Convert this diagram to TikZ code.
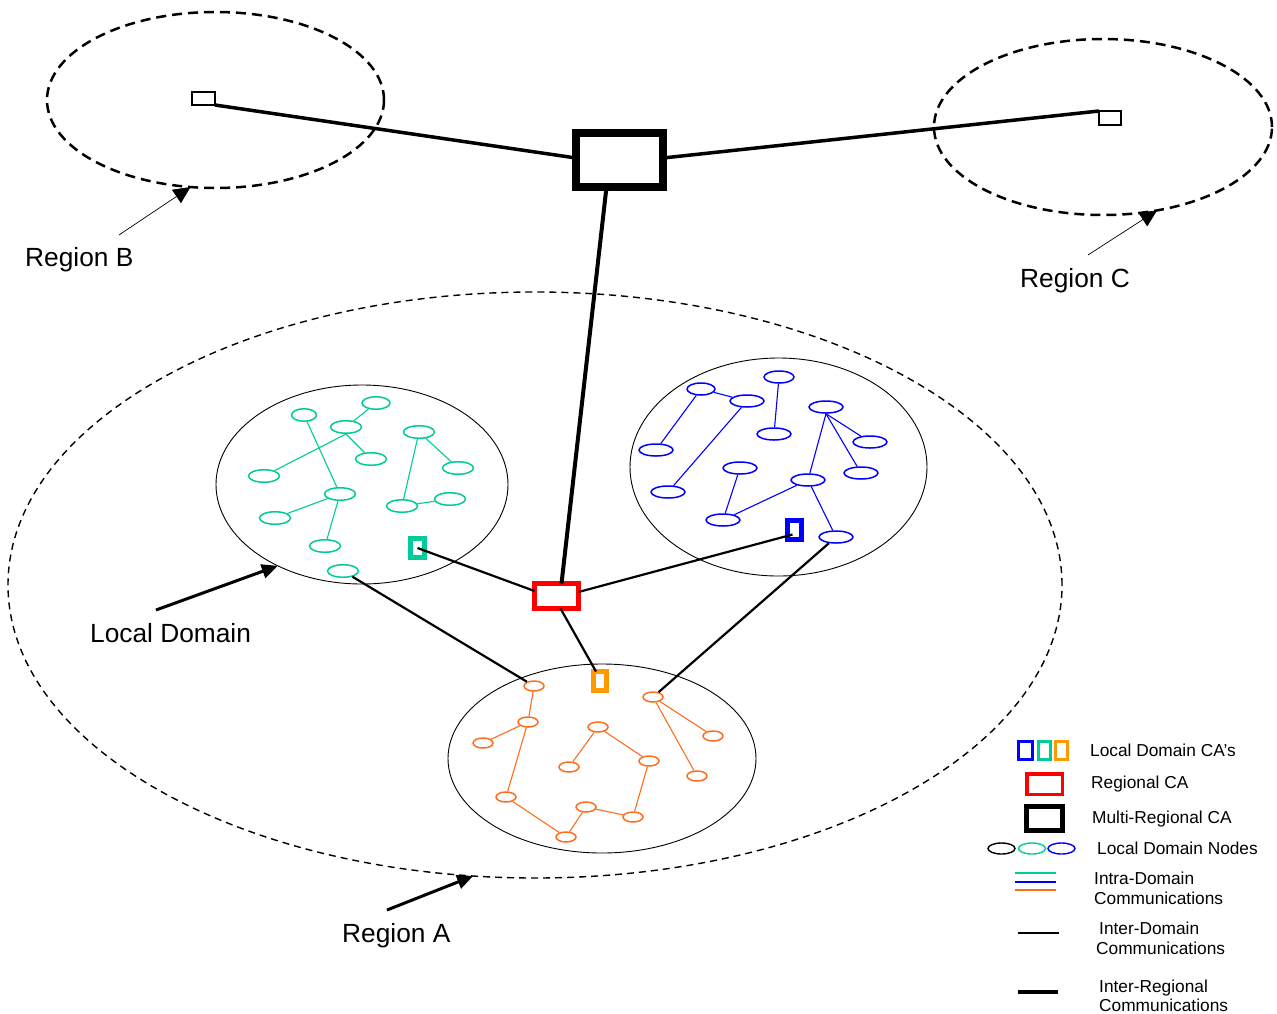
\documentclass[tikz,border=0pt]{standalone}
\usepackage{fontspec}
\setmainfont{Liberation Sans}
\usetikzlibrary{shapes.geometric,arrows.meta,calc}
\definecolor{gcol}{RGB}{0,204,153}
\definecolor{bcol}{RGB}{0,0,255}
\definecolor{ocol}{RGB}{255,110,30}
\definecolor{ocacol}{RGB}{255,153,0}
\definecolor{rcol}{RGB}{255,0,0}
\begin{document}
\begin{tikzpicture}[x=1pt,y=-1pt,
  bigdash/.style={ellipse,draw,dash pattern=on 10pt off 6pt,line width=2.5pt,inner sep=0,outer sep=0},
  smalldash/.style={ellipse,draw,dash pattern=on 7pt off 5pt,line width=1.4pt,inner sep=0,outer sep=0},
  domcirc/.style={ellipse,draw,line width=0.9pt,inner sep=0,outer sep=0},
  gnode/.style={ellipse,draw=gcol,line width=1.5pt,inner sep=0,minimum width=31pt,minimum height=12.5pt},
  bnode/.style={ellipse,draw=bcol,line width=1.5pt,inner sep=0,minimum width=34pt,minimum height=12pt},
  onode/.style={ellipse,draw=ocol,line width=1.5pt,inner sep=0,minimum width=20pt,minimum height=10pt},
  gedge/.style={draw=gcol,line width=1.1pt},
  bedge/.style={draw=bcol,line width=1.1pt},
  oedge/.style={draw=ocol,line width=1.1pt},
  cabox/.style={rectangle,draw,inner sep=0,outer sep=0},
  interdom/.style={draw,line width=2.2pt},
  interreg/.style={draw,line width=3.5pt},
  lbl/.style={inner sep=0,font=\fontsize{26.3}{30}\selectfont},
  legtext/.style={inner sep=0,anchor=base west,font=\fontsize{17.3}{20}\selectfont},
  thinarrow/.style={draw,line width=0.7pt,-{Triangle[length=17pt,width=16pt]}},
  thickarrow/.style={draw,line width=3pt,-{Triangle[length=16pt,width=14pt]}}
]
\fill[white] (0,0) rectangle (1277,1013);
\useasboundingbox (0,0) rectangle (1277,1013);

% regions
\node[bigdash,minimum width=337pt,minimum height=176pt] (regB) at (215.5,100) {};
\node[bigdash,minimum width=338pt,minimum height=176pt] (regC) at (1103,127) {};
\node[smalldash,minimum width=1054pt,minimum height=586pt] (regA) at (535,585) {};

% domains
\node[domcirc,minimum width=292pt,minimum height=199pt] (domG) at (362,484.5) {};
\node[domcirc,minimum width=297pt,minimum height=218pt] (domB) at (778.5,467) {};
\node[domcirc,minimum width=308pt,minimum height=189pt] (domO) at (602,758.5) {};

% CAs
\node[cabox,line width=8pt,minimum width=87pt,minimum height=54pt] (mr) at (619.5,160) {};
\node[cabox,line width=2pt,minimum width=23pt,minimum height=13pt] (bsq) at (203.5,98.5) {};
\node[cabox,line width=2pt,minimum width=22pt,minimum height=14pt] (csq) at (1110,118) {};
\node[cabox,draw=rcol,line width=5pt,minimum width=44pt,minimum height=25pt] (red) at (556.5,596) {};
\node[cabox,draw=gcol,line width=5pt,minimum width=14pt,minimum height=19pt] (gca) at (417.5,548) {};
\node[cabox,draw=bcol,line width=5pt,minimum width=14pt,minimum height=19pt] (bca) at (794.5,530) {};
\node[cabox,draw=ocacol,line width=5pt,minimum width=13pt,minimum height=19pt] (oca) at (600,681) {};

% green nodes
\node[gnode,minimum width=25pt] (g1) at (304,415) {};
\node[gnode,minimum width=28pt] (g2) at (376,403) {};
\node[gnode] (g3) at (346,427) {};
\node[gnode] (g4) at (371,459) {};
\node[gnode] (g5) at (264,476) {};
\node[gnode] (g6) at (419,432) {};
\node[gnode] (g7) at (458,468) {};
\node[gnode] (g8) at (340,494) {};
\node[gnode] (g9) at (275,518) {};
\node[gnode] (g10) at (402,506) {};
\node[gnode] (g11) at (450,499) {};
\node[gnode] (g12) at (325,546) {};
\node[gnode] (g13) at (343,571) {};
\draw[gedge] (g1) -- (g8);
\draw[gedge] (g3) -- (g2);
\draw[gedge] (g3.south) -- (g4);
\draw[gedge] (g3.south) -- (g5);
\draw[gedge] (g8) -- (g9);
\draw[gedge] (g8) -- (g12);
\draw[gedge] (g6) -- (g10);
\draw[gedge] (g6) -- (g7);
\draw[gedge] (g10) -- (g11);

% blue nodes
\node[bnode,minimum width=28pt] (b1) at (701,389) {};
\node[bnode] (b2) at (747,401) {};
\node[bnode,minimum width=30pt] (b3) at (779,377) {};
\node[bnode] (b4) at (774,434) {};
\node[bnode] (b5) at (826,407) {};
\node[bnode] (b6) at (870,442) {};
\node[bnode] (b7) at (861,473) {};
\node[bnode] (b8) at (656,450) {};
\node[bnode] (b9) at (668,492) {};
\node[bnode] (b10) at (740,468) {};
\node[bnode] (b11) at (808,480) {};
\node[bnode] (b12) at (723,520) {};
\node[bnode] (b13) at (836,537) {};
\draw[bedge] (b1) -- (b2);
\draw[bedge] (b1) -- (b8);
\draw[bedge] (b2) -- (b9);
\draw[bedge] (b3) -- (b4);
\draw[bedge] (b5.south) -- (b11);
\draw[bedge] (b5.south) -- (b6);
\draw[bedge] (b5.south) -- (b7);
\draw[bedge] (b10) -- (b12);
\draw[bedge] (b11) -- (b12);
\draw[bedge] (b11) -- (b13);

% orange nodes
\node[onode] (o1) at (534,686) {};
\node[onode] (o2) at (528,722) {};
\node[onode] (o3) at (483,743) {};
\node[onode] (o4) at (598,727) {};
\node[onode] (o5) at (569,767) {};
\node[onode] (o6) at (649,761) {};
\node[onode] (o7) at (653,697) {};
\node[onode] (o8) at (713,736) {};
\node[onode] (o9) at (697,776) {};
\node[onode] (o10) at (506,797) {};
\node[onode] (o11) at (586,807) {};
\node[onode] (o12) at (633,817) {};
\node[onode] (o13) at (566,837) {};
\draw[oedge] (o1) -- (o2);
\draw[oedge] (o2) -- (o3);
\draw[oedge] (o2) -- (o10);
\draw[oedge] (o4) -- (o5);
\draw[oedge] (o4) -- (o6);
\draw[oedge] (o6) -- (o12);
\draw[oedge] (o11) -- (o12);
\draw[oedge] (o11) -- (o13);
\draw[oedge] (o10) -- (o13);
\draw[oedge] (o7) -- (o8);
\draw[oedge] (o7) -- (o9);

% inter-regional
\draw[interreg] (bsq.south east) -- ($(mr.west)+(0,-2)$);
\draw[interreg] ($(mr.east)+(0,-2)$) -- (csq.north west);
\draw[draw,line width=4pt] ($(mr.south)+(-13,0)$) -- ($(red.north)+(5,0)$);

% inter-domain
\draw[interdom] ($(red.west)+(0,-5)$) -- (gca.center);
\draw[interdom] ($(red.east)+(0,-4)$) -- ($(bca.south)+(-2,-5)$);
\draw[interdom] ($(red.south)+(4,0)$) -- ($(oca.north)+(-4,0)$);
\draw[interdom] (g13) -- (o1);
\draw[interdom] (b13) -- (o7);

% labels and arrows
\node[lbl,anchor=base west] (tB) at (25,266) {Region B};
\node[lbl,anchor=base west] (tC) at (1020,287) {Region C};
\node[lbl,anchor=base west] (tL) at (90,642) {Local Domain};
\node[lbl,anchor=base west] (tA) at (342,942) {Region A};
\coordinate (aB) at (119,235);
\coordinate (aC) at (1088,255);
\coordinate (aL) at (156,610);
\coordinate (aA) at (387,910);
\draw[thinarrow] (aB) -- (regB.254);
\draw[thinarrow] (aC) -- (regC.303);
\draw[thickarrow] (aL) -- (domG.224);
\draw[thickarrow] (aA) -- (regA.258);

% legend
\node[cabox,draw=bcol,line width=3pt,minimum width=14pt,minimum height=18pt] (lb) at (1025.5,750.5) {};
\node[cabox,draw=gcol,line width=3pt,minimum width=12pt,minimum height=18pt] (lg) at (1044.5,750.5) {};
\node[cabox,draw=ocacol,line width=3pt,minimum width=12pt,minimum height=18pt] (lo) at (1061.5,750.5) {};
\node[legtext] (t1) at (1090,756) {Local Domain CA’s};
\node[cabox,draw=rcol,line width=3.5pt,minimum width=35.5pt,minimum height=20.5pt] (lr) at (1044.5,784) {};
\node[legtext] (t2) at (1091,788) {Regional CA};
\node[cabox,line width=5pt,minimum width=36pt,minimum height=24pt] (lm) at (1044.5,818.5) {};
\node[legtext] (t3) at (1092,823) {Multi-Regional CA};
\node[ellipse,draw,line width=1.4pt,inner sep=0,minimum width=27pt,minimum height=11pt] (le1) at (1001.5,848.5) {};
\node[ellipse,draw=gcol,line width=1.4pt,inner sep=0,minimum width=27pt,minimum height=11pt] (le2) at (1032,848.5) {};
\node[ellipse,draw=bcol,line width=1.4pt,inner sep=0,minimum width=27pt,minimum height=11pt] (le3) at (1061.5,848.5) {};
\node[legtext] (t4) at (1097,854) {Local Domain Nodes};
\draw[draw=gcol,line width=1.2pt] (1015,873) -- (1056,873);
\draw[draw=bcol,line width=1.2pt] (1015,882) -- (1056,882);
\draw[draw=ocol,line width=1.2pt] (1015,890) -- (1056,890);
\node[legtext] (t5) at (1094,884) {Intra-Domain};
\node[legtext] (t5b) at (1094,904) {Communications};
\draw[line width=2.6pt] (1018,933) -- (1059,933);
\node[legtext] (t6) at (1099,934) {Inter-Domain};
\node[legtext] (t6b) at (1096,954) {Communications};
\draw[line width=4pt] (1018,992) -- (1058,992);
\node[legtext] (t7) at (1099,992) {Inter-Regional};
\node[legtext] (t7b) at (1099,1011) {Communications};
\end{tikzpicture}
\end{document}
